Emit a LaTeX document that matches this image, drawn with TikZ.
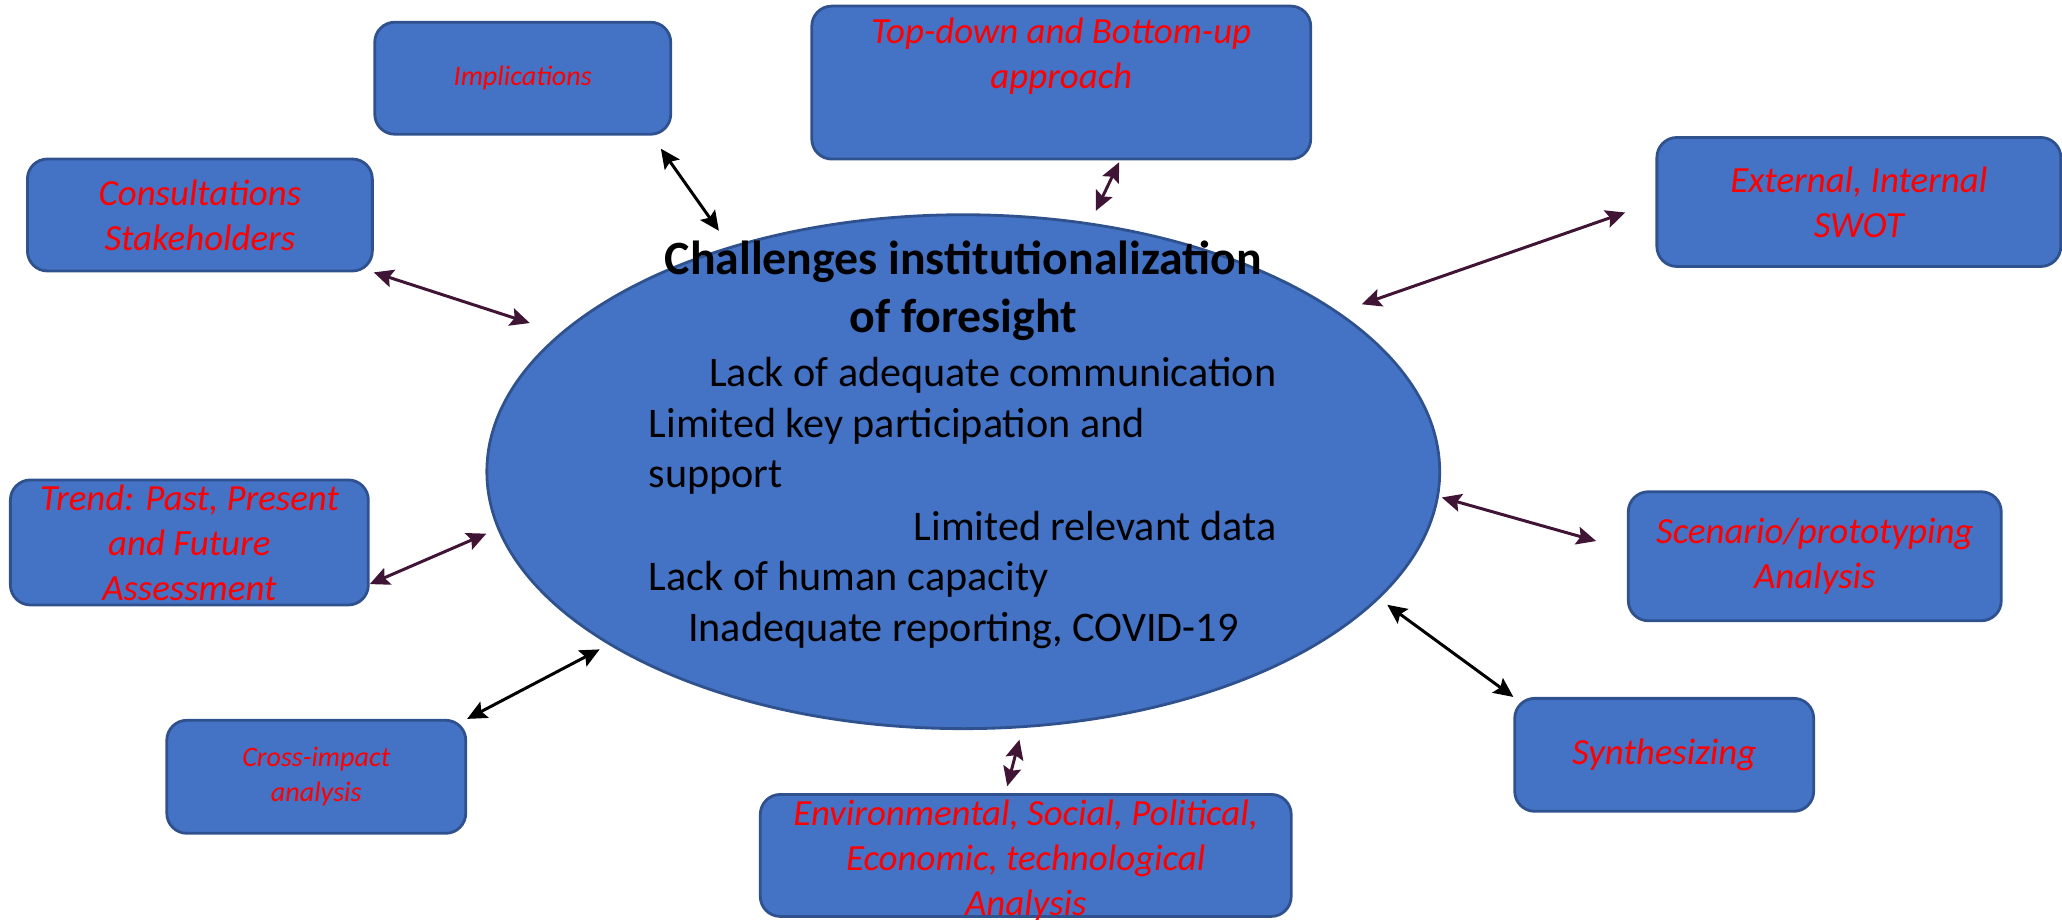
\documentclass[tikz,border=0pt]{standalone}
\usepackage{fontspec}
\setmainfont{Carlito}
\usetikzlibrary{shapes.geometric,arrows.meta,positioning}
\definecolor{boxblue}{HTML}{4472C4}
\definecolor{edgeblue}{HTML}{2F528F}
\definecolor{plum}{HTML}{3F1434}
\tikzset{%
ovalnode/.style={ellipse, draw=edgeblue, line width=0.8pt, fill=boxblue, inner sep=0pt},
roundbox/.style={rectangle, rounded corners=0.2cm, draw=edgeblue, line width=0.8pt, fill=boxblue, inner sep=0pt},
redtext/.style={text=red, font=\fontsize{10.5}{12.8}\selectfont\itshape, align=center},
smallred/.style={text=red, font=\fontsize{8}{9.8}\selectfont\itshape, align=center},
titletext/.style={font=\fontsize{13.6}{16.5}\selectfont\bfseries, inner sep=0pt},
bodytext/.style={font=\fontsize{12}{14.5}\selectfont, inner sep=0pt},
pt/.style={draw=black, line width=0.85pt, {Stealth[length=1.95mm,width=1.8mm,inset=0.35mm]}-{Stealth[length=1.95mm,width=1.8mm,inset=0.35mm]}},
ptp/.style={pt, draw=plum}
}
\begin{document}
\begin{tikzpicture}[x=0.01315cm, y=-0.01315cm]
	\useasboundingbox (0,0) rectangle (1568,699);
	% centre oval
	\node[ovalnode, minimum width=9.53cm, minimum height=5.14cm] (core) at (732.5,358.7) {};
	\node[titletext, anchor=base] (title1) at (732.5,209) {Challenges institutionalization};
	\node[titletext, anchor=base] (title2) at (732.5,253) {of foresight};
	\node[bodytext, anchor=base east] (comm) at (971,294) {Lack of adequate communication};
	\node[bodytext, anchor=base west] (part) at (492.7,333) {Limited key participation and};
	\node[bodytext, anchor=base west] (supp) at (492.7,371) {support};
	\node[bodytext, anchor=base east] (data) at (971,411) {Limited relevant data};
	\node[bodytext, anchor=base west] (human) at (492.7,449) {Lack of human capacity};
	\node[bodytext, anchor=base] (report) at (732.5,488) {Inadequate reporting, COVID-19};
	
	% boxes round it
	\node[roundbox, smallred, minimum width=2.96cm, minimum height=1.12cm] (impl) at (397.5,59.5) {Implications};
	\node[roundbox, minimum width=4.99cm, minimum height=1.53cm] (topdown) at (807,62.8) {};
	\node[redtext, yshift=0.26cm] (topdown-t) at (topdown.center) {Top-down and Bottom-up\\approach};
	\node[roundbox, redtext, minimum width=4.04cm, minimum height=1.29cm] (ext) at (1413.5,153.6) {External, Internal\\SWOT};
	\node[roundbox, redtext, minimum width=3.45cm, minimum height=1.12cm] (cons) at (152,163.5) {Consultations\\Stakeholders};
	\node[roundbox, minimum width=3.58cm, minimum height=1.25cm] (trend) at (144,412.5) {};
	\node[redtext] (trend-t) at (trend.center) {Trend: Past, Present\\and Future\\Assessment};
	\node[roundbox, smallred, minimum width=2.99cm, minimum height=1.13cm] (cross) at (240.5,590.7) {Cross-impact\\analysis};
	\node[roundbox, minimum width=5.31cm, minimum height=1.22cm] (env) at (780,650.5) {};
	\node[redtext, yshift=-0.05cm] (env-t) at (env.center) {Environmental, Social, Political,\\Economic, technological\\Analysis};
	\node[roundbox, redtext, minimum width=2.99cm, minimum height=1.13cm] (synth) at (1265.5,574) {Synthesizing};
	\node[roundbox, redtext, minimum width=3.73cm, minimum height=1.29cm] (scen) at (1380,423) {Scenario/prototyping\\Analysis};
	
	\draw[pt, shorten <=0.16cm, shorten >=0.19cm] (impl.-24) -- (core.136);
	\draw[ptp, shorten <=0.02cm, shorten >=0.13cm] (topdown.-53) -- (core.63);
	\draw[ptp, shorten <=0.32cm, shorten >=0.24cm] (ext.180) -- (core.23);
	\draw[ptp, shorten >=0.32cm] (cons.south east) -- (core.161);
	\draw[ptp, shorten >=0.12cm] (trend.-13) -- (core.187);
	\draw[pt, shorten >=0.1cm] (cross.north east) -- (core.206);
	\draw[ptp, shorten <=0.07cm, shorten >=0.12cm] (env.108) -- (core.-77);
	\draw[pt, shorten >=0.1cm] (synth.north west) -- (core.-17);
	\draw[ptp, shorten <=0.32cm, shorten >=0.03cm] (scen.178) -- (core.-3.5);
\end{tikzpicture}
\end{document}
